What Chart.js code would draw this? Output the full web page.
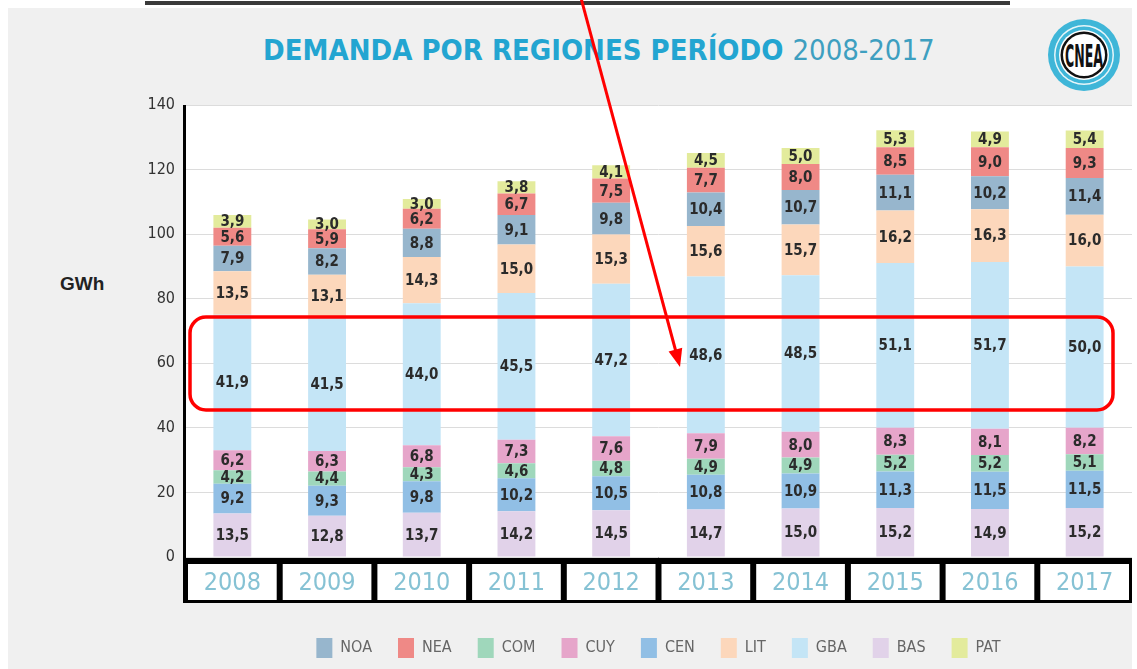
<!DOCTYPE html>
<html lang="es">
<head>
<meta charset="UTF-8">
<title>Demanda por regiones 2008-2017</title>
<script src="https://cdn.jsdelivr.net/npm/chart.js"></script>
<style>
    body {
        margin: 0;
        width: 1137px;
        height: 669px;
        overflow: hidden;
        position: relative;
        background: #fff;
        font-family: 'DejaVu Sans Condensed', 'DejaVu Sans', sans-serif;
    }
    .panel {
        position: absolute;
        left: 8px; top: 8px;
        width: 1124px; height: 661px;
        background: #f0f0f0;
    }
    .topline {
        position: absolute;
        left: 145px; top: 1px;
        width: 865px; height: 4px;
        background: #3a3a3a;
    }
    .title {
        position: absolute;
        left: 263px; top: 35px;
        font-size: 29px;
        line-height: 30px;
        white-space: nowrap;
        color: #23a5d1;
        font-weight: bold;
    }
    .title span { font-weight: normal; color: #3e9fc0; }
    .unit {
        position: absolute;
        left: 60px; top: 273px;
        font-family: 'Liberation Sans', Arial, sans-serif;
        font-weight: bold;
        font-size: 19px;
        color: #222;
    }
    canvas { position: absolute; left: 0; top: 0; }
    svg { position: absolute; left: 0; top: 0; pointer-events: none; }
</style>
</head>
<body>

<div class="panel"></div>
<div class="topline"></div>
<div class="title">DEMANDA POR REGIONES PERÍODO <span>2008-2017</span></div>
<div class="unit">GWh</div>

<!-- CNEA logo -->
<svg width="1137" height="120">
    <circle cx="1084" cy="55" r="36" fill="#3fb6d8"/>
    <circle cx="1084" cy="55" r="30" fill="#e6f5f9"/>
    <circle cx="1084" cy="55" r="28.5" fill="#3fb6d8"/>
    <circle cx="1084" cy="55" r="25" fill="#fff"/>
    <circle cx="1084" cy="55" r="23.5" fill="#111"/>
    <circle cx="1084" cy="55" r="21" fill="#fff"/>
    <text x="1084" y="67" text-anchor="middle" font-family="DejaVu Sans Condensed" font-weight="bold"
          font-size="32" textLength="38" lengthAdjust="spacingAndGlyphs" fill="#111">CNEA</text>
</svg>

<canvas id="demandChart" width="1137" height="669"></canvas>

<!-- red annotation -->
<svg width="1137" height="669">
    <rect x="190" y="317" width="923" height="93" rx="16" fill="none" stroke="#f00" stroke-width="3.5"/>
    <line x1="581" y1="-2" x2="676" y2="352" stroke="#f00" stroke-width="3"/>
    <polygon points="680,367 668.6,351.4 682.2,347.8" fill="#f00"/>
</svg>

<script>
    // years on the x axis
    const years = ['2008', '2009', '2010', '2011', '2012', '2013', '2014', '2015', '2016', '2017'];

    // demand per region (stacked bottom to top)
    const bas = [13.5, 12.8, 13.7, 14.2, 14.5, 14.7, 15.0, 15.2, 14.9, 15.2];
    const cen = [9.2, 9.3, 9.8, 10.2, 10.5, 10.8, 10.9, 11.3, 11.5, 11.5];
    const com = [4.2, 4.4, 4.3, 4.6, 4.8, 4.9, 4.9, 5.2, 5.2, 5.1];
    const cuy = [6.2, 6.3, 6.8, 7.3, 7.6, 7.9, 8.0, 8.3, 8.1, 8.2];
    const gba = [41.9, 41.5, 44.0, 45.5, 47.2, 48.6, 48.5, 51.1, 51.7, 50.0];
    const lit = [13.5, 13.1, 14.3, 15.0, 15.3, 15.6, 15.7, 16.2, 16.3, 16.0];
    const noa = [7.9, 8.2, 8.8, 9.1, 9.8, 10.4, 10.7, 11.1, 10.2, 11.4];
    const nea = [5.6, 5.9, 6.2, 6.7, 7.5, 7.7, 8.0, 8.5, 9.0, 9.3];
    const pat = [3.9, 3.0, 3.0, 3.8, 4.1, 4.5, 5.0, 5.3, 4.9, 5.4];

    // y axis ticks
    const yTicks = [0, 20, 40, 60, 80, 100, 120, 140];

    // order of the legend entries
    const legendOrder = ['NOA', 'NEA', 'COM', 'CUY', 'CEN', 'LIT', 'GBA', 'BAS', 'PAT'];

    const series = [
        { label: 'BAS', data: bas, color: '#e1d2e9' },
        { label: 'CEN', data: cen, color: '#91bfe5' },
        { label: 'COM', data: com, color: '#9fd7bb' },
        { label: 'CUY', data: cuy, color: '#e6a5ca' },
        { label: 'GBA', data: gba, color: '#c4e5f6' },
        { label: 'LIT', data: lit, color: '#fcd7bb' },
        { label: 'NOA', data: noa, color: '#97b6cd' },
        { label: 'NEA', data: nea, color: '#ef8986' },
        { label: 'PAT', data: pat, color: '#e3eb9c' }
    ];

    const font = "'DejaVu Sans Condensed', 'DejaVu Sans', sans-serif";

    // white plot, black axis and the boxed year labels
    const framePlugin = {
        id: 'frame',
        beforeDraw(chart) {
            const { ctx, chartArea: a } = chart;
            const w = (a.right - a.left) / years.length;
            ctx.save();
            ctx.fillStyle = '#fff';
            ctx.fillRect(a.left, a.top, a.right - a.left, a.bottom - a.top);
            ctx.fillStyle = '#000';
            ctx.fillRect(a.left - 2, a.bottom, a.right - a.left + 2, 46);
            ctx.fillStyle = '#fff';
            years.forEach((y, i) => {
                ctx.fillRect(a.left + i * w + 3, a.bottom + 7, w - 6, 36);
            });
            ctx.restore();
        },
        afterDatasetsDraw(chart) {
            const { ctx } = chart;
            ctx.save();
            ctx.font = 'bold 15px ' + font;
            ctx.fillStyle = '#2b2b2b';
            ctx.textAlign = 'center';
            ctx.textBaseline = 'middle';
            chart.data.datasets.forEach((ds, di) => {
                chart.getDatasetMeta(di).data.forEach((bar, i) => {
                    const v = ds.data[i];
                    const cy = (bar.y + bar.base) / 2;
                    ctx.fillText(v.toFixed(1).replace('.', ','), bar.x, cy + 1);
                });
            });
            ctx.restore();
        },
        afterDraw(chart) {
            const { ctx, chartArea: a } = chart;
            ctx.save();
            ctx.fillStyle = '#000';
            ctx.fillRect(a.left - 2, a.top, 3, a.bottom - a.top + 46);
            ctx.restore();
        }
    };

    new Chart(document.getElementById('demandChart'), {
        type: 'bar',
        data: {
            labels: years,
            datasets: series.map(s => ({
                label: s.label,
                data: s.data,
                backgroundColor: s.color,
                borderWidth: 0,
                barPercentage: 0.4,
                categoryPercentage: 1.0
            }))
        },
        options: {
            responsive: false,
            animation: false,
            layout: { padding: { top: 105, right: 5, bottom: 1, left: 0 } },
            scales: {
                x: {
                    stacked: true,
                    grid: { display: false },
                    border: { display: false },
                    ticks: {
                        color: '#86c2d4',
                        font: { family: font, size: 25 },
                        padding: 3,
                        maxRotation: 0
                    },
                    afterFit(scale) { scale.height = 55; }
                },
                y: {
                    stacked: true,
                    min: 0,
                    max: 140,
                    afterBuildTicks(scale) { scale.ticks = yTicks.map(v => ({ value: v })); },
                    grid: { color: '#dcdcdc', lineWidth: 1, drawTicks: false },
                    border: { display: false },
                    ticks: {
                        color: '#333',
                        font: { family: font, size: 16 },
                        padding: 10
                    },
                    afterFit(scale) { scale.width = 185; }
                }
            },
            plugins: {
                legend: {
                    position: 'bottom',
                    fullSize: false,
                    labels: {
                        boxWidth: 16,
                        boxHeight: 20,
                        padding: 26,
                        color: '#666',
                        font: { family: font, size: 16 },
                        sort: (a, b) => legendOrder.indexOf(a.text) - legendOrder.indexOf(b.text)
                    }
                },
                tooltip: { enabled: false }
            }
        },
        plugins: [framePlugin]
    });
</script>

</body>
</html>
